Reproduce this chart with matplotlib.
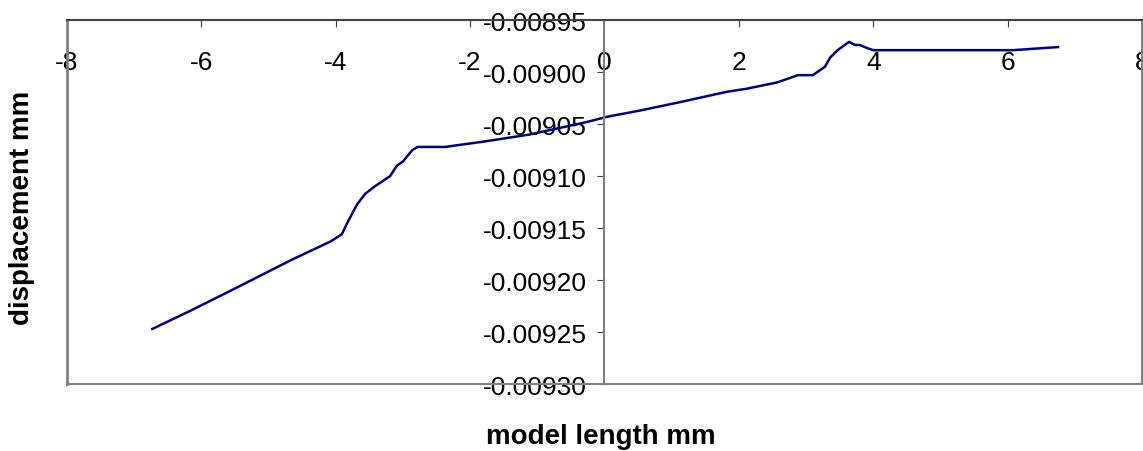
import numpy as np
import matplotlib.pyplot as plt

plt.rcParams['font.family'] = ['Liberation Sans', 'DejaVu Sans']
plt.rcParams['axes.unicode_minus'] = False

# model length (mm) vs displacement (mm)
length_mm = [-6.73, -6.18, -5.62, -5.13, -4.64, -4.08, -3.91, -3.82, -3.68,
             -3.56, -3.42, -3.19, -3.09, -3.00, -2.86, -2.78, -2.37, -2.15,
             -1.81, -1.11, -0.26, 0.04, 0.53, 1.12, 1.82, 2.12, 2.57, 2.88,
             3.10, 3.28, 3.36, 3.47, 3.64, 3.73, 3.80, 3.91, 4.00, 6.08, 6.75]
displacement_mm = [-0.009247, -0.009230, -0.009212, -0.009196, -0.009180,
                   -0.009163, -0.009156, -0.009144, -0.009127, -0.009117,
                   -0.009110, -0.009100, -0.009090, -0.009086, -0.009075,
                   -0.009072, -0.009072, -0.009070, -0.009067, -0.009060,
                   -0.009048, -0.009043, -0.009037, -0.009029, -0.009019,
                   -0.009016, -0.009010, -0.009003, -0.009003, -0.008995,
                   -0.008986, -0.008979, -0.008971, -0.008974, -0.008974,
                   -0.008977, -0.008979, -0.008979, -0.008976]
x_ticks = np.arange(-8, 9, 2)
y_ticks = np.arange(-0.00930, -0.00894, 0.00005)

fig = plt.figure(figsize=(11.43, 4.52), dpi=100)
ax = fig.add_axes([0.0586, 0.148, 0.9405, 0.8055])

ax.plot(length_mm, displacement_mm, color='#000080', lw=1.8)

ax.set_xlim(-8, 8)
ax.set_ylim(-0.00930, -0.00895)
ax.set_xticks(x_ticks)
ax.set_yticks(y_ticks)
ax.set_yticklabels(['%.5f' % v for v in y_ticks])

# excel style: x axis along the top, y axis crossing at x = 0
ax.spines['left'].set_position(('data', 0))
ax.spines['left'].set_color('#808080')
ax.spines['right'].set_color('#808080')
ax.spines['bottom'].set_color('#808080')
ax.spines['top'].set_color('#404040')
for s in ax.spines.values():
    s.set_linewidth(1.5)
ax.plot([0, 0], [0, 1], transform=ax.transAxes, color='#808080', lw=2,
        clip_on=False)

ax.tick_params(axis='x', top=True, bottom=False, labeltop=True,
               labelbottom=False, direction='in', length=5, pad=-39,
               labelsize=19, color='#404040')
ax.tick_params(axis='y', direction='out', length=5, pad=8, labelsize=19,
               color='#404040')

fig.text(0.5255, 0.033, 'model length mm', ha='center', va='center',
         fontsize=20, fontweight='bold')
fig.text(0.019, 0.541, 'displacement mm', ha='center', va='center',
         rotation=90, fontsize=20, fontweight='bold')

plt.savefig('out.png', dpi=100)
